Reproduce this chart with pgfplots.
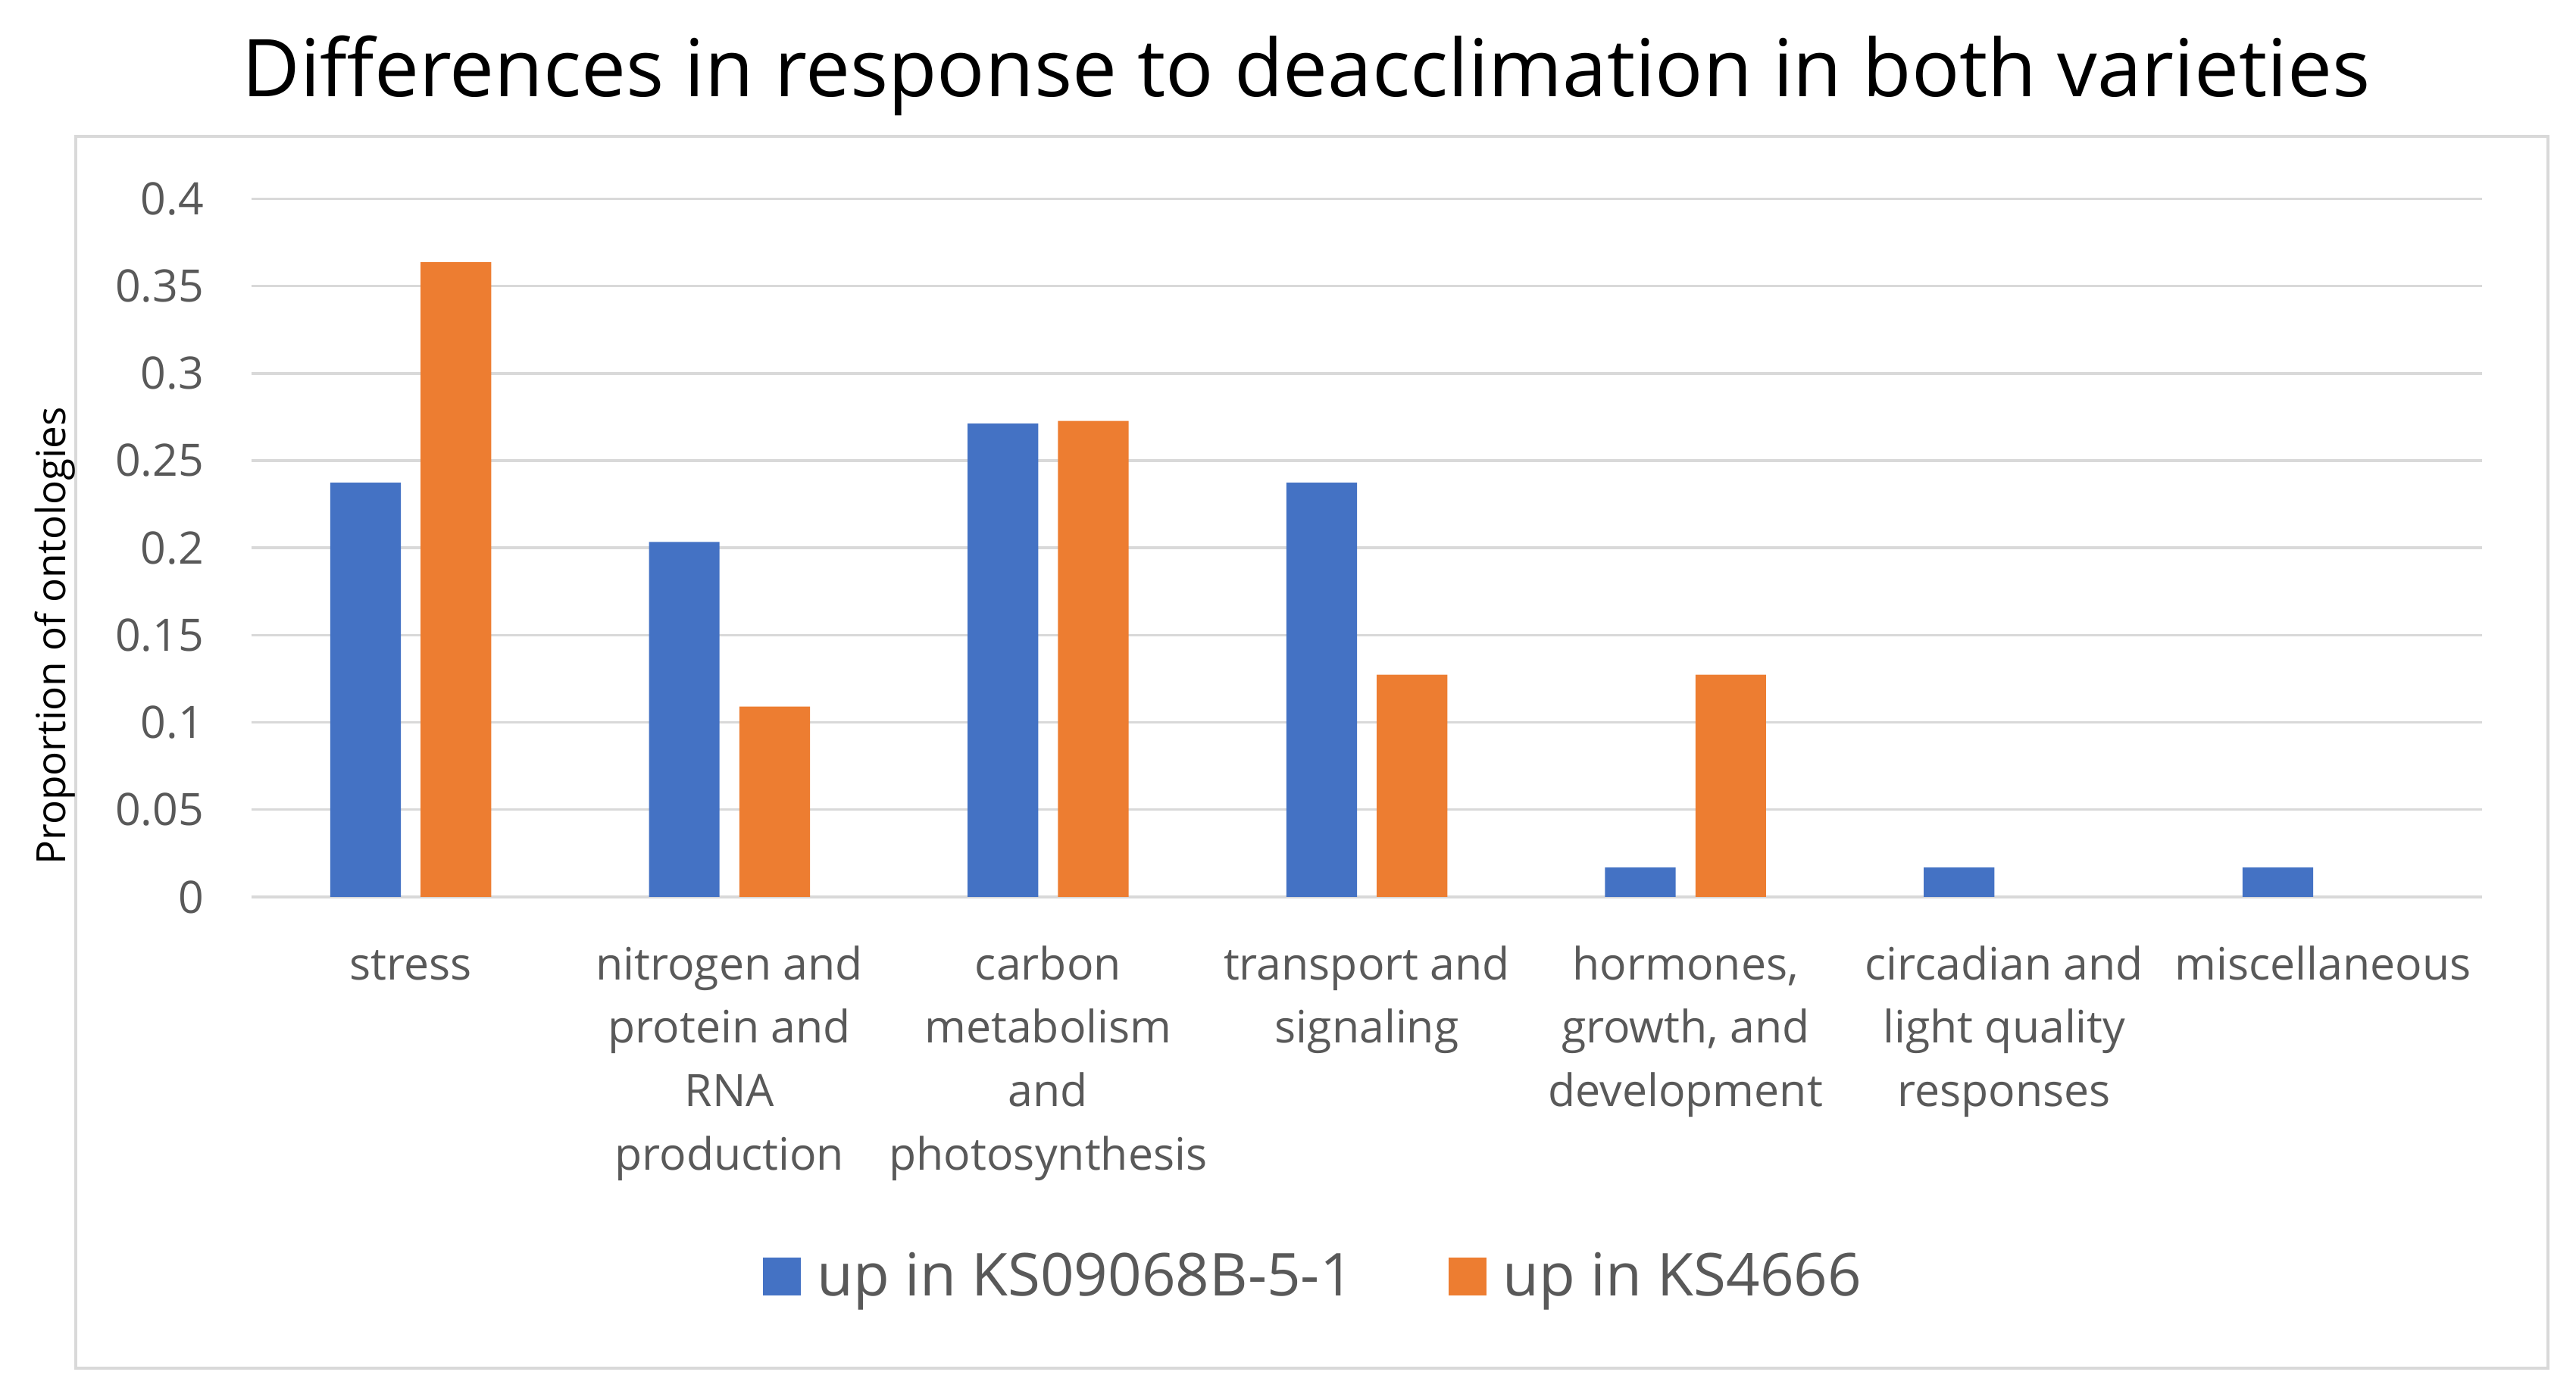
\documentclass[border=0pt]{standalone}
\usepackage{pgfplots}
\pgfplotsset{compat=1.18}
\usepackage{fontspec}
\setmainfont{Open Sans}
\definecolor{exblue}{HTML}{4472C4}
\definecolor{exorange}{HTML}{ED7D31}
\definecolor{txtgray}{HTML}{595959}
\definecolor{gridgray}{HTML}{D9D9D9}
\begin{document}
\begin{tikzpicture}
\useasboundingbox (-76.5pt,-153pt) rectangle (707.5pt,273pt);
\fill[white] (-76.5pt,-153pt) rectangle (707.5pt,273pt);
\draw[gridgray, line width=1pt] (-53.5pt,-143.5pt) rectangle (699pt,231.5pt);
\node[font=\fontsize{24.25}{29}\selectfont, text=black] at (321pt,250pt) {Differences in response to deacclimation in both varieties};
\begin{axis}[
  at={(0,0)}, anchor=south west,
  scale only axis, width=679pt, height=212.5pt,
  ybar=6pt, bar width=21.5pt,
  xmin=-0.5, xmax=6.5, ymin=0, ymax=0.4,
  xtick={0,1,2,3,4,5,6},
  xticklabels={{\strut stress},
    {\strut nitrogen and\\protein and\\RNA\\production},
    {\strut carbon\\metabolism\\and\\photosynthesis},
    {\strut transport and\\signaling},
    {\strut hormones,\\growth, and\\development},
    {\strut circadian and\\light quality\\responses},
    {\strut miscellaneous}},
  ytick={0,0.05,0.1,0.15,0.2,0.25,0.3,0.35,0.4},
  yticklabels={0,0.05,0.1,0.15,0.2,0.25,0.3,0.35,0.4},
  ymajorgrids, grid style={gridgray, line width=0.8pt},
  axis line style={draw=none},
  major tick length=0pt,
  tick label style={text=txtgray, font=\fontsize{13.6}{19.3}\selectfont},
  yticklabel style={anchor=east, inner sep=0pt, xshift=-14.25pt},
  xticklabel style={anchor=north, align=center, inner sep=0pt, yshift=-11.5pt},
  ylabel={Proportion of ontologies},
  ylabel style={at={(axis description cs:-0.088,0.374)}, anchor=center, font=\fontsize{12.25}{14}\selectfont, text=black},
  legend style={at={(0.477,-0.5435)}, anchor=center, draw=none, fill=none, legend columns=2,
    font=\fontsize{18}{21}\selectfont, text=txtgray,
    /tikz/every even column/.append style={column sep=27pt}},
  legend image code/.code={\fill[#1] (0pt,-5.75pt) rectangle (11.5pt,5.75pt); \path (14.5pt,0pt);},
]
\addplot[fill=exblue, draw=none] coordinates {(0,0.2373) (1,0.2034) (2,0.2712) (3,0.2373) (4,0.0169) (5,0.0169) (6,0.0169)};
\addplot[fill=exorange, draw=none] coordinates {(0,0.3636) (1,0.1091) (2,0.2727) (3,0.1273) (4,0.1273)};
\legend{up in KS09068B-5-1, up in KS4666}
\end{axis}
\end{tikzpicture}
\end{document}
